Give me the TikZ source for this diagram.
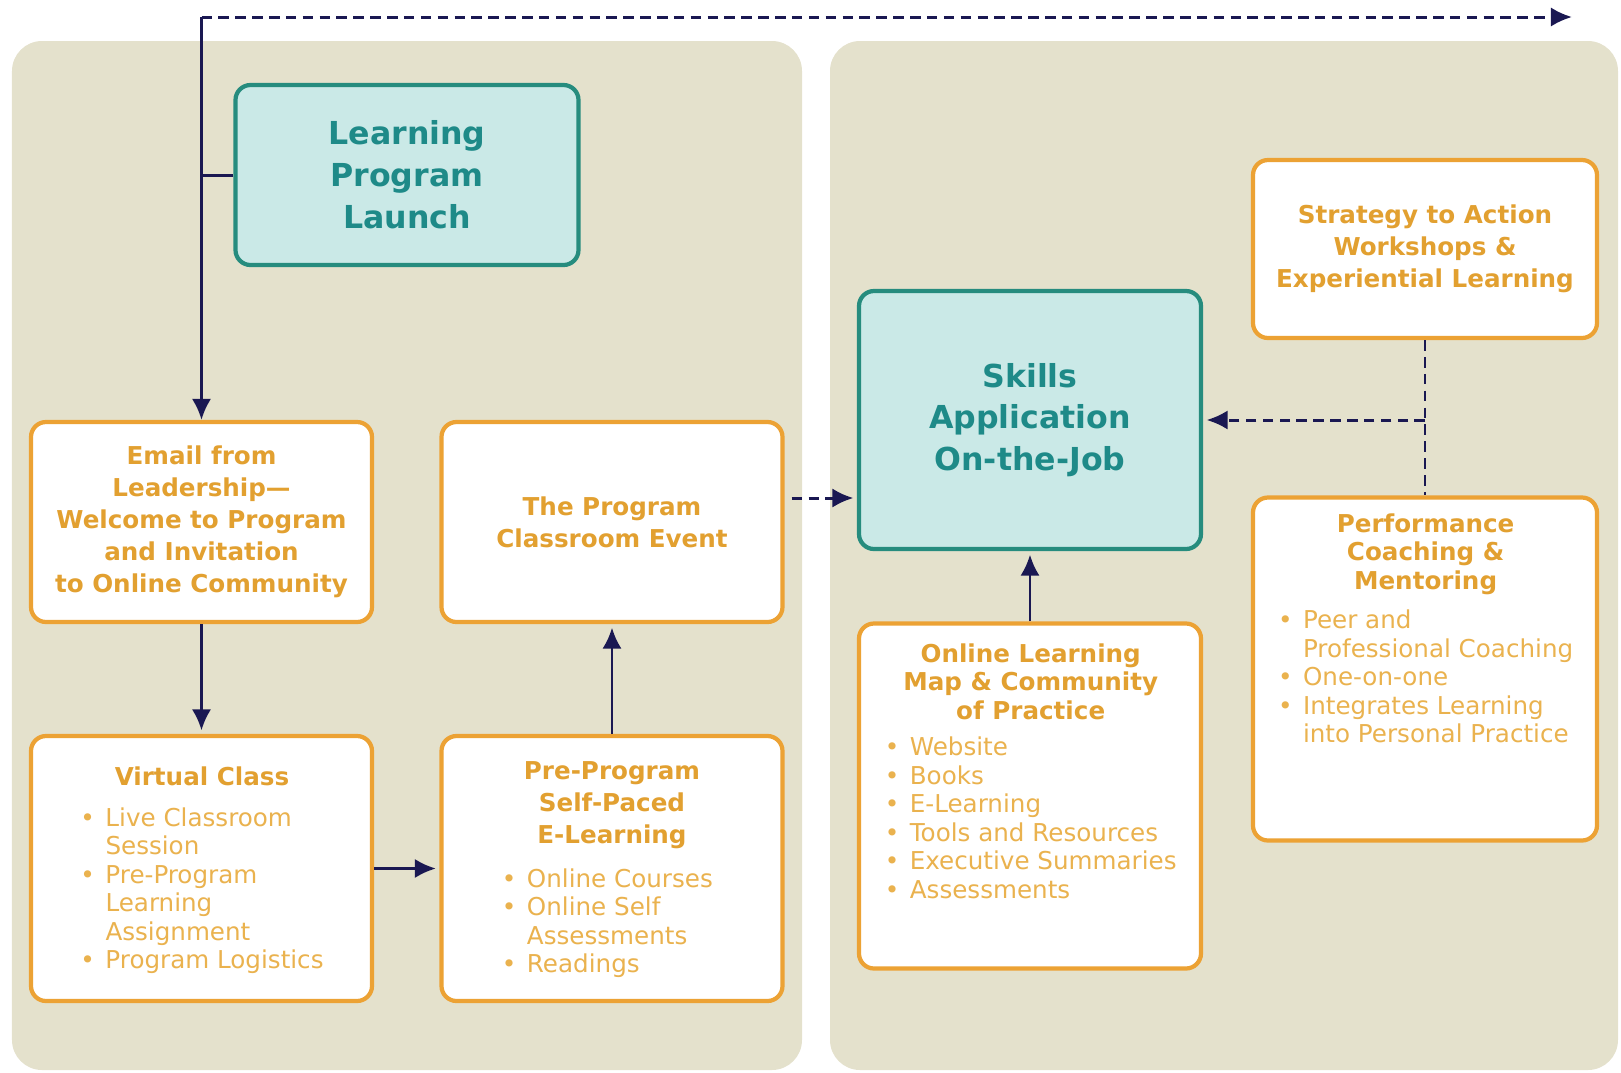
\documentclass[tikz,border=0pt]{standalone}
\usepackage{fontspec}
\setmainfont{DejaVu Sans}
\usetikzlibrary{arrows.meta,positioning}

\definecolor{panelbg}{RGB}{228,225,204}
\definecolor{tealline}{RGB}{38,140,126}
\definecolor{tealfill}{RGB}{202,233,231}
\definecolor{tealtext}{RGB}{30,138,136}
\definecolor{orangeline}{RGB}{236,162,52}
\definecolor{titletext}{RGB}{226,160,48}
\definecolor{itemtext}{RGB}{234,178,78}
\definecolor{arrowblue}{RGB}{26,24,82}

\tikzset{
	panel/.style={fill=panelbg, rounded corners=0.3cm},
	tealbox/.style={draw=tealline, fill=tealfill, line width=1.2pt,
		rounded corners=0.15cm, inner sep=0pt, align=center,
		text=tealtext, font=\fontsize{9}{11.9}\selectfont\bfseries},
	orangebox/.style={draw=orangeline, fill=white, line width=1.2pt,
		rounded corners=0.15cm, inner sep=0pt, align=center,
		text=titletext, font=\fontsize{7}{9.1}\selectfont\bfseries},
	boxtitle/.style={inner sep=0pt, align=center, text=titletext,
		font=\fontsize{7}{9.1}\selectfont\bfseries},
	itemlist/.style={inner sep=0pt, text=itemtext,
		font=\fontsize{7}{8.1}\selectfont},
	flow/.style={draw=arrowblue, line width=0.85pt},
	flowarrow/.style={flow, -{Latex[length=6pt,width=5.5pt]}},
	dashedflow/.style={flow, dash pattern=on 3pt off 1.8pt},
	dashedarrow/.style={dashedflow, -{Latex[length=6pt,width=5.5pt]}}
}

\begin{document}
\begin{tikzpicture}
	\useasboundingbox (0,0) rectangle (16.21,-10.73);

	\fill[panel] (0.12,-0.41) rectangle (8.02,-10.70);
	\fill[panel] (8.30,-0.41) rectangle (16.18,-10.70);

	\draw (4.07,-1.75) node[tealbox,
					 minimum width=3.43cm,
					 minimum height=1.80cm](launch){Learning\\Program\\Launch};
	\draw (2.015,-5.22) node[orangebox,
					 minimum width=3.41cm,
					 minimum height=2.00cm](email){Email from\\Leadership—\\Welcome to Program\\and Invitation\\to Online Community};
	\draw (6.12,-5.22) node[orangebox,
					 minimum width=3.41cm,
					 minimum height=2.00cm](classroom){The Program\\Classroom Event};
	\draw (2.015,-8.685) node[orangebox,
					 minimum width=3.41cm,
					 minimum height=2.65cm](virtual){};
	\draw (6.12,-8.685) node[orangebox,
					 minimum width=3.41cm,
					 minimum height=2.65cm](preprog){};

	\draw (10.30,-4.20) node[tealbox,
					 minimum width=3.42cm,
					 minimum height=2.58cm](skills){Skills\\Application\\On-the-Job};
	\draw (10.30,-7.96) node[orangebox,
					 minimum width=3.42cm,
					 minimum height=3.45cm](online){};
	\draw (14.25,-2.49) node[orangebox,
					 minimum width=3.44cm,
					 minimum height=1.78cm](strategy){Strategy to Action\\Workshops \&\\Experiential Learning};
	\draw (14.25,-6.69) node[orangebox,
					 minimum width=3.44cm,
					 minimum height=3.43cm](coaching){};

	\draw (2.02,-7.764) node[boxtitle](virtualtitle){Virtual Class};
	\draw (2.02,-8.916) node[itemlist](virtuallist){%
		\begin{tabular}{@{}l@{\hspace{3pt}}l@{}}
			\textbullet & Live Classroom\\
			 & Session\\
			\textbullet & Pre-Program\\
			 & Learning\\
			 & Assignment\\
			\textbullet & Program Logistics
		\end{tabular}};

	\draw (6.12,-8.053) node[boxtitle](preprogtitle){Pre-Program\\Self-Paced\\E-Learning};
	\draw (6.074,-9.242) node[itemlist](preproglist){%
		\begin{tabular}{@{}l@{\hspace{3pt}}l@{}}
			\textbullet & Online Courses\\
			\textbullet & Online Self\\
			 & Assessments\\
			\textbullet & Readings
		\end{tabular}};

	\draw (10.307,-6.818) node[boxtitle,
					 font=\fontsize{7}{8.1}\selectfont\bfseries](onlinetitle){Online Learning\\Map \& Community\\of Practice};
	\draw (10.307,-8.214) node[itemlist](onlinelist){%
		\begin{tabular}{@{}l@{\hspace{3pt}}l@{}}
			\textbullet & Website\\
			\textbullet & Books\\
			\textbullet & E-Learning\\
			\textbullet & Tools and Resources\\
			\textbullet & Executive Summaries\\
			\textbullet & Assessments
		\end{tabular}};

	\draw (14.256,-5.541) node[boxtitle,
					 font=\fontsize{7}{8.1}\selectfont\bfseries](coachingtitle){Performance\\Coaching \&\\Mentoring};
	\draw (14.256,-6.802) node[itemlist](coachinglist){%
		\begin{tabular}{@{}l@{\hspace{3pt}}l@{}}
			\textbullet & Peer and\\
			 & Professional Coaching\\
			\textbullet & One-on-one\\
			\textbullet & Integrates Learning\\
			 & into Personal Practice
		\end{tabular}};

	\coordinate (start) at (2.015,-0.17);
	\coordinate (finish) at (15.72,-0.17);
	\coordinate (jobline) at (0,-4.98);

	\draw [dashedarrow](start) -- (finish);
	\draw [flowarrow](start) -- (email.north);
	\draw [flow](launch.west) -- (launch.west -| start);
	\draw [flowarrow](email.south) -- ([yshift=1pt]virtual.north);
	\draw [flowarrow](virtual.east) -- ([xshift=-1pt]preprog.west);
	\draw [flowarrow](preprog.north) -- ([yshift=-1pt]classroom.south);
	\draw [dashedarrow]([xshift=2pt]classroom.east |- jobline) -- ([xshift=-1pt]skills.west |- jobline);
	\draw [flowarrow](online.north) -- ([yshift=-1pt]skills.south);
	\draw [dashedflow](strategy.south) -- (coaching.north);
	\draw [dashedarrow](strategy.south |- skills.east) -- ([xshift=1pt]skills.east);
\end{tikzpicture}
\end{document}
